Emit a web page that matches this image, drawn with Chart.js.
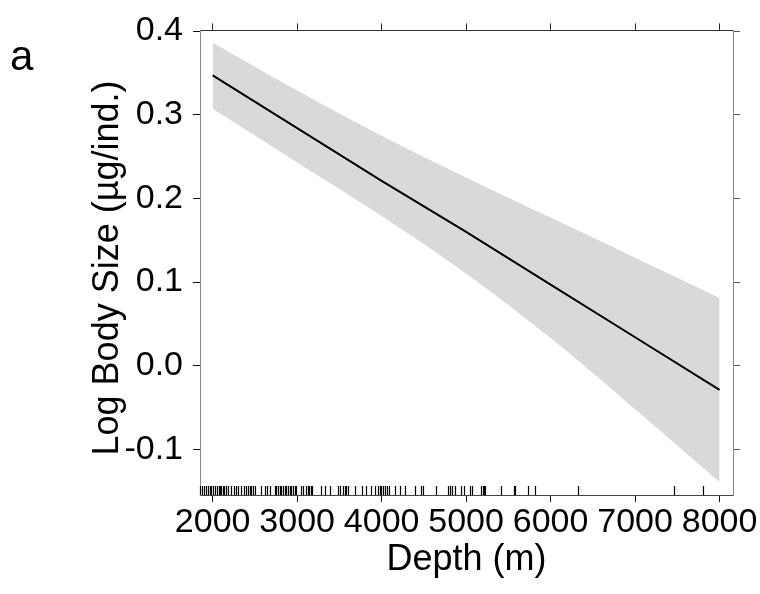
<!DOCTYPE html>
<html>
<head>
<meta charset="utf-8">
<script src="https://cdn.jsdelivr.net/npm/chart.js@4"></script>
<style>
  html, body { margin: 0; padding: 0; background: #fff; }
  #wrap { width: 760px; height: 594px; position: relative; }
</style>
</head>
<body>
<div id="wrap"><canvas id="bodySizeChart"></canvas></div>
<script>
// --- data ---
const depthGrid = [2000, 3000, 4000, 5000, 6000, 7000, 8000];
const fitLine   = [0.347, 0.284, 0.221, 0.160, 0.097, 0.034, -0.029];
const ciUpper   = [0.386, 0.329, 0.275, 0.225, 0.177, 0.129, 0.081];
const ciLower   = [0.307, 0.243, 0.179, 0.110, 0.033, -0.052, -0.139];

// depths of the sampled stations (rug along the x axis)
const rugDepths = [
  1854, 1874, 1897, 1925, 1945, 1964, 1984, 2004, 2032, 2055, 2071, 2091,
  2103, 2122, 2134, 2154, 2182, 2213, 2253, 2272, 2300, 2340, 2371, 2399,
  2418, 2438, 2458, 2478, 2505, 2576, 2624, 2647, 2675, 2734, 2754, 2774,
  2794, 2813, 2833, 2853, 2873, 2892, 2912, 2932, 2951, 2971, 2991, 3042,
  3070, 3109, 3129, 3145, 3161, 3177, 3279, 3334, 3386, 3484, 3512, 3544,
  3563, 3583, 3603, 3682, 3769, 3820, 3879, 3919, 3958, 3978, 3998, 4017,
  4045, 4069, 4092, 4156, 4215, 4274, 4392, 4471, 4491, 4649, 4787, 4807,
  4827, 4866, 4945, 4973, 5044, 5072, 5182, 5194, 5210, 5226, 5407, 5565,
  5577, 5735, 5818, 6319, 7460, 7800
];

const xTicks = [2000, 3000, 4000, 5000, 6000, 7000, 8000];
const yTicks = [-0.1, 0.0, 0.1, 0.2, 0.3, 0.4];

const FONT = 'Arial, "Liberation Sans", sans-serif';

// rug marks, y axis title and panel letter
const extras = {
  id: 'extras',
  afterDatasetsDraw(chart) {
    const ctx = chart.ctx;
    const x = chart.scales.x;
    const bottom = chart.chartArea.bottom;
    ctx.save();
    ctx.strokeStyle = '#000';
    ctx.lineWidth = 1.2;
    rugDepths.forEach(d => {
      const px = Math.round(x.getPixelForValue(d)) + 0.5;
      ctx.beginPath();
      ctx.moveTo(px, bottom);
      ctx.lineTo(px, bottom - 9);
      ctx.stroke();
    });
    ctx.restore();
  },
  afterDraw(chart) {
    const ctx = chart.ctx;
    ctx.save();
    ctx.fillStyle = '#000';
    ctx.font = '42px ' + FONT;
    ctx.textBaseline = 'alphabetic';
    ctx.fillText('a', 10, 70);

    // y title, a little below the middle of the plot as in the original
    ctx.translate(108, 268);
    ctx.rotate(-Math.PI / 2);
    ctx.font = '36px ' + FONT;
    ctx.textAlign = 'center';
    ctx.textBaseline = 'middle';
    ctx.fillText('Log Body Size (µg/ind.)', 0, 0);
    ctx.restore();
  }
};

const tickOpts = (show) => ({
  display: show,
  font: { family: FONT, size: 34 },
  color: '#000',
  padding: 10
});

new Chart(document.getElementById('bodySizeChart'), {
  type: 'line',
  data: {
    labels: depthGrid,
    datasets: [
      {
        label: 'upper',
        data: depthGrid.map((d, i) => ({ x: d, y: ciUpper[i] })),
        borderWidth: 0,
        pointRadius: 0,
        tension: 0.4,
        backgroundColor: '#d9d9d9',
        fill: '+1',
        order: 2
      },
      {
        label: 'lower',
        data: depthGrid.map((d, i) => ({ x: d, y: ciLower[i] })),
        borderWidth: 0,
        pointRadius: 0,
        tension: 0.4,
        fill: false,
        order: 3
      },
      {
        label: 'fit',
        data: depthGrid.map((d, i) => ({ x: d, y: fitLine[i] })),
        borderColor: '#000',
        borderWidth: 2,
        pointRadius: 0,
        fill: false,
        order: 0
      }
    ]
  },
  options: {
    responsive: true,
    maintainAspectRatio: false,
    animation: false,
    layout: { padding: 0 },
    plugins: {
      legend: { display: false },
      tooltip: { enabled: false }
    },
    scales: {
      x: {
        type: 'linear',
        position: 'bottom',
        min: 1850,
        max: 8159,
        afterBuildTicks: s => { s.ticks = xTicks.map(v => ({ value: v })); },
        afterFit: s => { s.height = 99; },
        ticks: Object.assign(tickOpts(true), { maxRotation: 0, padding: 0, callback: v => String(v) }),
        grid: { drawOnChartArea: false, drawTicks: true, tickLength: 7, color: '#111' },
        border: { display: true, color: '#444', width: 1 },
        title: {
          display: true,
          text: 'Depth (m)',
          color: '#000',
          font: { family: FONT, size: 36, lineHeight: 1.2 },
          padding: { top: 0, bottom: 12 }
        }
      },
      x2: {
        type: 'linear',
        position: 'top',
        min: 1850,
        max: 8159,
        afterBuildTicks: s => { s.ticks = xTicks.map(v => ({ value: v })); },
        afterFit: s => { s.height = 20; },
        ticks: tickOpts(false),
        grid: { drawOnChartArea: false, drawTicks: true, tickLength: 7, color: '#222' },
        border: { display: true, color: '#333', width: 1 }
      },
      y: {
        type: 'linear',
        position: 'left',
        min: -0.1546,
        max: 0.4008,
        afterBuildTicks: s => { s.ticks = yTicks.map(v => ({ value: v })); },
        afterFit: s => { s.width = 200; },
        ticks: Object.assign(tickOpts(true), { callback: v => v.toFixed(1) }),
        grid: { drawOnChartArea: false, drawTicks: true, tickLength: 7, color: '#111' },
        border: { display: true, color: '#888', width: 1 }
      },
      y2: {
        type: 'linear',
        position: 'right',
        min: -0.1546,
        max: 0.4008,
        afterBuildTicks: s => { s.ticks = yTicks.map(v => ({ value: v })); },
        afterFit: s => { s.width = 27; },
        ticks: tickOpts(false),
        grid: { drawOnChartArea: false, drawTicks: true, tickLength: 7, color: '#555' },
        border: { display: true, color: '#888', width: 1 }
      }
    }
  },
  plugins: [extras]
});
</script>
</body>
</html>
